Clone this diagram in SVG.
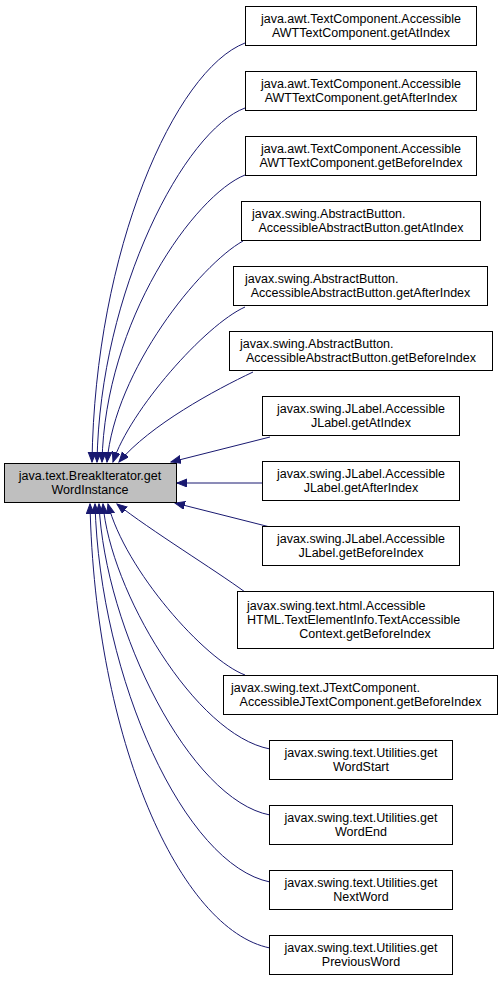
<svg xmlns="http://www.w3.org/2000/svg" width="503" height="983" viewBox="0 0 503 983">
<style>
.n rect{fill:#fff;stroke:#000;stroke-width:1}
.m rect{fill:#bfbfbf;stroke:#000;stroke-width:1}
text{font-family:"Liberation Sans",Arial,sans-serif;font-size:12.5px;fill:#000}
.c{text-anchor:middle}
.e path{fill:none;stroke:#191970;stroke-width:1;marker-end:url(#ah)}
</style>
<defs>
<marker id="ah" markerUnits="userSpaceOnUse" markerWidth="11" markerHeight="9" refX="10" refY="4" orient="auto" viewBox="0 0 11 9">
<path d="M0,0 L10,4 L0,8 z" fill="#191970" stroke="#191970" stroke-width="1"/>
</marker>
</defs>
<rect width="503" height="983" fill="#fff"/>
<g class="e" id="edges">
<path d="M245,43 C175,70 95,250 92,462"/>
<path d="M245,108 C185,130 100,290 97,462"/>
<path d="M245,175 C195,195 105,320 102,462"/>
<path d="M243,241 C200,265 115,370 107,462"/>
<path d="M245,307 C205,325 130,410 113,462"/>
<path d="M253,372 C215,390 150,425 119,462"/>
<path d="M270,437 L171,462"/>
<path d="M262,483 L177,483"/>
<path d="M270,527 L175,503"/>
<path d="M245,592 C215,570 150,530 117,504"/>
<path d="M245,675 C205,660 125,570 108,504"/>
<path d="M270,749 C195,735 110,590 103,504"/>
<path d="M270,815 C190,800 105,630 99,504"/>
<path d="M270,882 C185,865 100,680 95,504"/>
<path d="M270,948 C180,930 95,740 90,504"/>
</g>
<g class="m" id="main">
<rect x="4.5" y="463.5" width="172" height="39"/>
<text class="c" x="90" y="480">java.text.BreakIterator.get</text>
<text class="c" x="90" y="494">WordInstance</text>
</g>
<g class="n" id="n1">
<rect x="245.5" y="6.5" width="231" height="39"/>
<text class="c" x="361" y="22.5">java.awt.TextComponent.Accessible</text>
<text class="c" x="361" y="36.5">AWTTextComponent.getAtIndex</text>
</g>
<g class="n" id="n2">
<rect x="245.5" y="71.5" width="231" height="39"/>
<text class="c" x="361" y="87.5">java.awt.TextComponent.Accessible</text>
<text class="c" x="361" y="101.5">AWTTextComponent.getAfterIndex</text>
</g>
<g class="n" id="n3">
<rect x="245.5" y="136.5" width="231" height="39"/>
<text class="c" x="361" y="152.5">java.awt.TextComponent.Accessible</text>
<text class="c" x="361" y="166.5">AWTTextComponent.getBeforeIndex</text>
</g>
<g class="n" id="n4">
<rect x="241.5" y="201.5" width="239" height="39"/>
<text x="252" y="217.5">javax.swing.AbstractButton.</text>
<text class="c" x="361" y="231.5">AccessibleAbstractButton.getAtIndex</text>
</g>
<g class="n" id="n5">
<rect x="233.5" y="266.5" width="254" height="39"/>
<text x="245" y="282.5">javax.swing.AbstractButton.</text>
<text class="c" x="360.5" y="296.5">AccessibleAbstractButton.getAfterIndex</text>
</g>
<g class="n" id="n6">
<rect x="229.5" y="331.5" width="263" height="39"/>
<text x="240" y="347.5">javax.swing.AbstractButton.</text>
<text class="c" x="361" y="361.5">AccessibleAbstractButton.getBeforeIndex</text>
</g>
<g class="n" id="n7">
<rect x="262.5" y="396.5" width="197" height="39"/>
<text class="c" x="361" y="412.5">javax.swing.JLabel.Accessible</text>
<text class="c" x="361" y="426.5">JLabel.getAtIndex</text>
</g>
<g class="n" id="n8">
<rect x="262.5" y="461.5" width="197" height="39"/>
<text class="c" x="361" y="477.5">javax.swing.JLabel.Accessible</text>
<text class="c" x="361" y="491.5">JLabel.getAfterIndex</text>
</g>
<g class="n" id="n9">
<rect x="262.5" y="526.5" width="197" height="39"/>
<text class="c" x="361" y="542.5">javax.swing.JLabel.Accessible</text>
<text class="c" x="361" y="556.5">JLabel.getBeforeIndex</text>
</g>
<g class="n" id="n10">
<rect x="237.5" y="591.5" width="256" height="57"/>
<text x="247" y="610">javax.swing.text.html.Accessible</text>
<text x="247" y="624">HTML.TextElementInfo.TextAccessible</text>
<text class="c" x="365" y="638">Context.getBeforeIndex</text>
</g>
<g class="n" id="n11">
<rect x="223.5" y="675.5" width="274" height="39"/>
<text x="231" y="691.5">javax.swing.text.JTextComponent.</text>
<text class="c" x="360.5" y="705.5">AccessibleJTextComponent.getBeforeIndex</text>
</g>
<g class="n" id="n12">
<rect x="269.5" y="740.5" width="183" height="39"/>
<text class="c" x="361" y="756.5">javax.swing.text.Utilities.get</text>
<text class="c" x="361" y="770.5">WordStart</text>
</g>
<g class="n" id="n13">
<rect x="269.5" y="805.5" width="183" height="39"/>
<text class="c" x="361" y="821.5">javax.swing.text.Utilities.get</text>
<text class="c" x="361" y="835.5">WordEnd</text>
</g>
<g class="n" id="n14">
<rect x="269.5" y="870.5" width="183" height="39"/>
<text class="c" x="361" y="886.5">javax.swing.text.Utilities.get</text>
<text class="c" x="361" y="900.5">NextWord</text>
</g>
<g class="n" id="n15">
<rect x="269.5" y="935.5" width="183" height="39"/>
<text class="c" x="361" y="951.5">javax.swing.text.Utilities.get</text>
<text class="c" x="361" y="965.5">PreviousWord</text>
</g>
</svg>
